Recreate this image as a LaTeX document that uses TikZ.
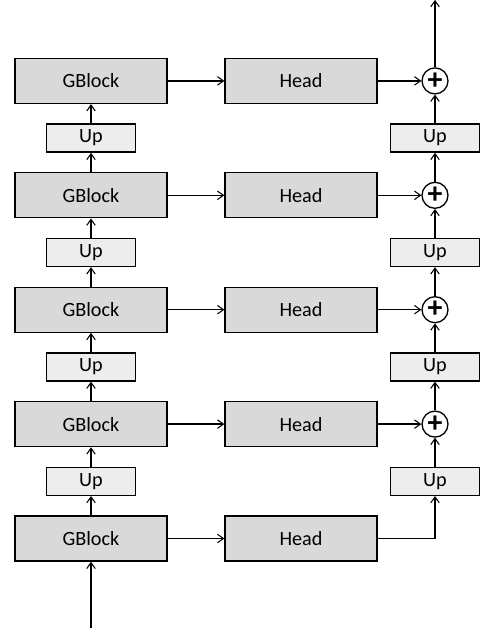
\documentclass[tikz,border=0pt]{standalone}
\usepackage{fontspec}
\setmainfont{Carlito}
\usepackage{tikz}
\usepackage{xcolor}
\usetikzlibrary{arrows.meta}

\begin{document}
\begin{tikzpicture}[node distance=1.144cm, line width=0.75pt,
		block/.style={draw, fill=black!15, minimum width=3.04cm, minimum height=0.9cm, font=\fontsize{11.5}{13}\selectfont},
		upbox/.style={draw, fill=black!7, minimum width=1.78cm, minimum height=0.56cm, font=\fontsize{11.5}{13}\selectfont},
		sum/.style={draw, circle, fill=white, inner sep=0pt, minimum size=0.52cm, font=\fontsize{17}{17}\selectfont\bfseries},
		arr/.style={-{Straight Barb[length=1.2mm, width=1.7mm, line width=0.6pt]}}]
		\useasboundingbox (0,0) rectangle (9.62,-12.7);
		\node[block] (g1) at (1.82,-10.77) {GBlock};
		\node[upbox, above of=g1] (up1) {Up};
		\node[block, above of=up1] (g2) {GBlock};
		\node[upbox, above of=g2] (up2) {Up};
		\node[block, above of=up2] (g3) {GBlock};
		\node[upbox, above of=g3] (up3) {Up};
		\node[block, above of=up3] (g4) {GBlock};
		\node[upbox, above of=g4] (up4) {Up};
		\node[block, above of=up4] (g5) {GBlock};
		
		\node[block, right of=g1, node distance=4.2cm] (h1) {Head};
		\node[block, right of=g2, node distance=4.2cm] (h2) {Head};
		\node[block, right of=g3, node distance=4.2cm] (h3) {Head};
		\node[block, right of=g4, node distance=4.2cm] (h4) {Head};
		\node[block, right of=g5, node distance=4.2cm] (h5) {Head};
		
		\node[sum, right of=h2, node distance=2.68cm] (s2) {+};
		\node[sum, right of=h3, node distance=2.68cm] (s3) {+};
		\node[sum, right of=h4, node distance=2.68cm] (s4) {+};
		\node[sum, right of=h5, node distance=2.68cm] (s5) {+};
		\node[upbox, below of=s2] (upr1) {Up};
		\node[upbox, below of=s3] (upr2) {Up};
		\node[upbox, below of=s4] (upr3) {Up};
		\node[upbox, below of=s5] (upr4) {Up};
		
		\coordinate[below of=g1, node distance=1.79cm] (in);
		\coordinate[above of=s5, node distance=1.62cm] (out);
		
		\draw[arr] (in) -- (g1);
		\draw[arr] (g1) -- (up1);
		\draw[arr] (up1) -- (g2);
		\draw[arr] (g2) -- (up2);
		\draw[arr] (up2) -- (g3);
		\draw[arr] (g3) -- (up3);
		\draw[arr] (up3) -- (g4);
		\draw[arr] (g4) -- (up4);
		\draw[arr] (up4) -- (g5);
		
		\draw[arr] (g1) -- (h1);
		\draw[arr] (g2) -- (h2);
		\draw[arr] (g3) -- (h3);
		\draw[arr] (g4) -- (h4);
		\draw[arr] (g5) -- (h5);
		
		\draw[arr] (h1) -| (upr1);
		\draw[arr] (h2) -- (s2);
		\draw[arr] (h3) -- (s3);
		\draw[arr] (h4) -- (s4);
		\draw[arr] (h5) -- (s5);
		\draw[arr] (upr1) -- (s2);
		\draw[arr] (s2) -- (upr2);
		\draw[arr] (upr2) -- (s3);
		\draw[arr] (s3) -- (upr3);
		\draw[arr] (upr3) -- (s4);
		\draw[arr] (s4) -- (upr4);
		\draw[arr] (upr4) -- (s5);
		\draw[arr] (s5) -- (out);
	\end{tikzpicture}
\end{document}
